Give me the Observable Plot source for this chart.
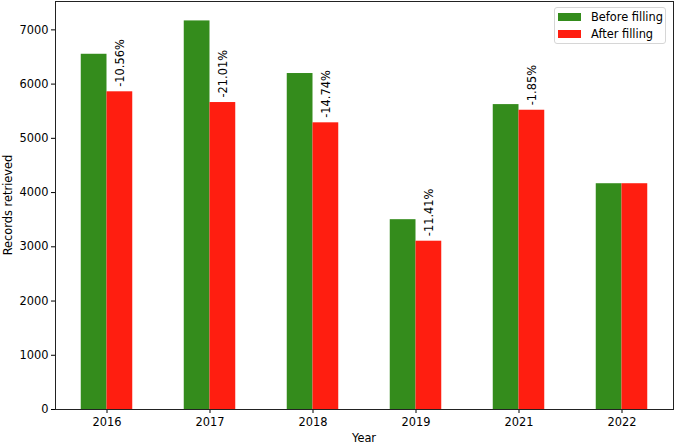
<!DOCTYPE html>
<html>
<head>
<meta charset="utf-8">
<script src="https://cdn.jsdelivr.net/npm/d3@7"></script>
<script src="https://cdn.jsdelivr.net/npm/@observablehq/plot@0.6"></script>
<style>
  html, body { margin: 0; padding: 0; background: #fff; }
  #wrap { position: relative; width: 675px; height: 444px; font-family: "DejaVu Sans", sans-serif; }
  #legend { position: absolute; left: 554px; top: 7px; width: 112px; height: 37px; box-sizing: border-box;
    border: 1px solid #d6d6d6; border-radius: 3px; background: rgba(255,255,255,0.8);
    font: 11.4px "DejaVu Sans", sans-serif; color: #000; }
  .item { position: absolute; left: 3px; display: flex; align-items: center; }
  .sw { width: 23px; height: 8px; margin-right: 10px; }
  .axlab { position: absolute; font: 11.4px "DejaVu Sans", sans-serif; color: #000; white-space: nowrap; }
  #xlab { left: 364px; top: 431px; transform: translateX(-50%); }
  #ylab { left: 8px; top: 205px; transform: translate(-50%, -50%) rotate(-90deg); }
</style>
</head>
<body>
<div id="wrap"></div>
<script>
const years = ["2016", "2017", "2018", "2019", "2021", "2022"];
const before = [6550, 7165, 6195, 3500, 5622, 4163];
const after = [5858, 5660, 5286, 3103, 5518, 4163];
const changes = ["-10.56%", "-21.01%", "-14.74%", "-11.41%", "-1.85%", null];
const series = ["Before filling", "After filling"];
const colors = ["#348c1c", "#ff1e10"];
const yTicks = [0, 1000, 2000, 3000, 4000, 5000, 6000, 7000];
const xTitle = "Year";
const yTitle = "Records retrieved";

const rows = [];
years.forEach((y, i) => {
  rows.push({i, series: series[0], x1: i - 0.25, x2: i, v: before[i]});
  rows.push({i, series: series[1], x1: i, x2: i + 0.25, v: after[i]});
});
const notes = years.map((y, i) => ({x: i + 0.125, v: after[i], t: changes[i]})).filter(d => d.t);

const chart = Plot.plot({
  width: 675,
  height: 444,
  marginLeft: 55,
  marginRight: 2,
  marginTop: 1,
  marginBottom: 35,
  style: {fontFamily: "DejaVu Sans, sans-serif", fontSize: "11.4px", color: "#000", background: "#fff"},
  x: {domain: [-0.5, 5.5], ticks: d3.range(years.length), tickFormat: i => years[i], tickSize: 4, tickPadding: 4, label: null},
  y: {domain: [0, 7523], ticks: yTicks, tickFormat: d => String(d), tickSize: 4, tickPadding: 3, label: null},
  color: {domain: series, range: colors},
  marks: [
    Plot.rectY(rows, {x1: "x1", x2: "x2", y: "v", fill: "series"}),
    Plot.text(notes, {x: "x", y: "v", text: "t", rotate: -90, textAnchor: "start", dy: -5, fontSize: 11.4, fill: "#000"}),
    Plot.frame({stroke: "#222"})
  ]
});
const wrap = document.getElementById("wrap");
wrap.appendChild(chart);

const xl = document.createElement("div");
xl.id = "xlab"; xl.className = "axlab"; xl.textContent = xTitle;
const yl = document.createElement("div");
yl.id = "ylab"; yl.className = "axlab"; yl.textContent = yTitle;
wrap.appendChild(xl); wrap.appendChild(yl);

const leg = document.createElement("div");
leg.id = "legend";
series.forEach((s, k) => {
  const it = document.createElement("div");
  it.className = "item";
  it.style.top = (k === 0 ? 2 : 19) + "px";
  const sw = document.createElement("div");
  sw.className = "sw";
  sw.style.background = colors[k];
  const tx = document.createElement("span");
  tx.textContent = s;
  it.appendChild(sw); it.appendChild(tx);
  leg.appendChild(it);
});
wrap.appendChild(leg);
</script>
</body>
</html>
